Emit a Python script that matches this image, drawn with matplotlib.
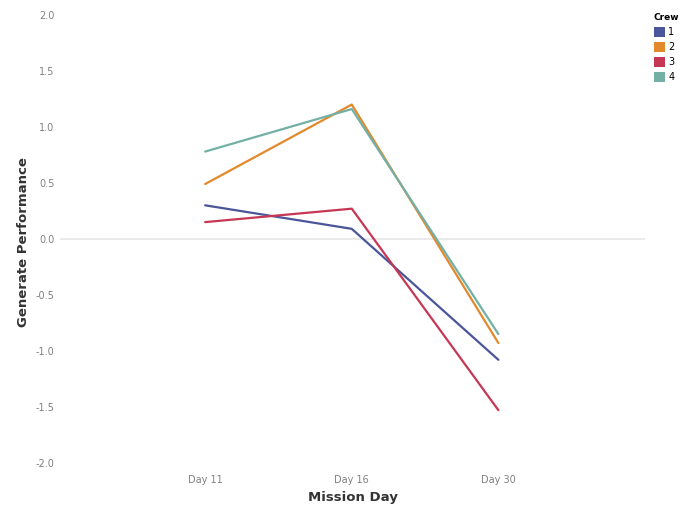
import matplotlib
matplotlib.use("Agg")
from matplotlib import pyplot as plt
from matplotlib.patches import Patch

days = ['Day 11', 'Day 16', 'Day 30']
crews = ['1', '2', '3', '4']
crew1 = [0.30, 0.09, -1.08]
crew2 = [0.49, 1.20, -0.93]
crew3 = [0.15, 0.27, -1.53]
crew4 = [0.78, 1.16, -0.85]
yticks = [-2.0, -1.5, -1.0, -0.5, 0.0, 0.5, 1.0, 1.5, 2.0]

colors = ['#4a5699', '#e3892c', '#c53753', '#72b0a6']
series = [crew1, crew2, crew3, crew4]

fig = plt.figure(figsize=(6.85, 5.07), dpi=100)
ax = fig.add_axes([60/685, 1 - 474/507, 585/685, (474 - 9.4)/507])

x = list(range(len(days)))
for s, c in zip(series, colors):
    ax.plot(x, s, color=c, lw=1.6, solid_capstyle='round')

ax.axhline(0, color='#e6e6e6', lw=1.2, zorder=0)
ax.set_xlim(-0.99, 3.0)
ax.set_ylim(-2.1, 2.05)
ax.set_xticks(x)
ax.set_xticklabels(days)
ax.set_yticks(yticks)
ax.set_yticklabels(['%.1f' % t for t in yticks])
ax.tick_params(length=0, labelsize=7, labelcolor='#808080')
ax.tick_params(axis='x', pad=1)
ax.tick_params(axis='y', pad=4)
for sp in ax.spines.values():
    sp.set_visible(False)

ax.set_xlabel('Mission Day', fontsize=9.5, fontweight='bold', color='#333333', labelpad=4)
ax.set_ylabel('Generate Performance', fontsize=9.5, fontweight='bold', color='#333333', labelpad=4)

handles = [Patch(facecolor=c, edgecolor='none') for c in colors]
leg = fig.legend(handles, crews, title='Crew', loc='upper left',
                 bbox_to_anchor=(647/685, 1 - 6/507), frameon=False,
                 fontsize=7, title_fontsize=6.5, handlelength=1.1, handleheight=1.2,
                 handletextpad=0.4, labelspacing=0.5, borderpad=0.2)
leg.get_title().set_fontweight('bold')
leg._legend_box.align = 'left'

fig.savefig('out.png', dpi=100)
